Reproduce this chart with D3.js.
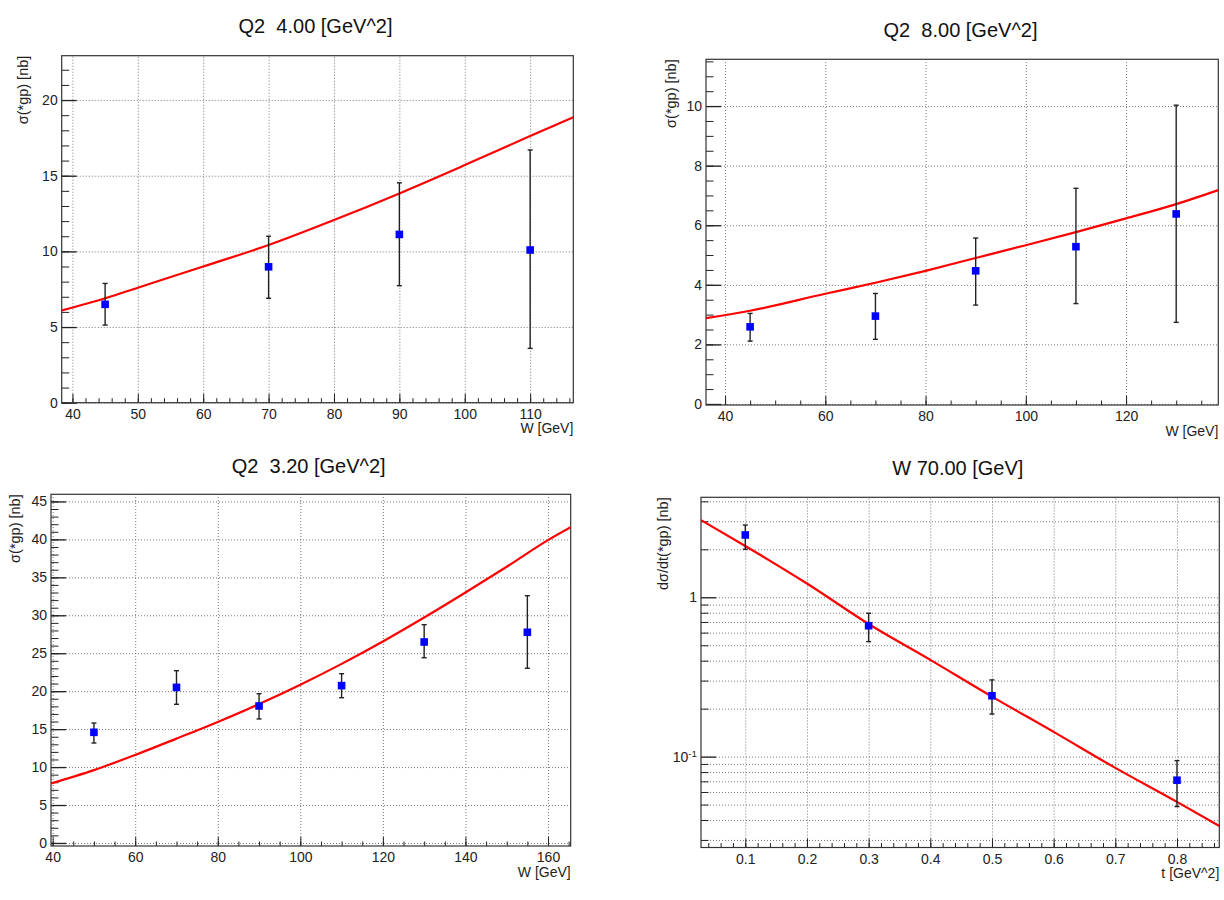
<!DOCTYPE html>
<html>
<head>
<meta charset="utf-8">
<script src="https://cdn.jsdelivr.net/npm/d3@7"></script>
<style>
body { margin: 0; background: #fff; }
text { font-family: "Liberation Sans", Arial, Helvetica, sans-serif; }
</style>
</head>
<body>
<div id="canvasplot"></div>
<script>
// Q2 = 4.00 GeV^2
var q4W      = [45, 70, 90, 110],
    q4Sig    = [6.5, 8.98, 11.12, 10.09],
    q4Lo     = [5.13, 6.9, 7.73, 3.59],
    q4Hi     = [7.88, 11.0, 14.53, 16.7],
    q4FitW   = [38.4, 45, 50, 60, 70, 80, 90, 100, 110, 116.6],
    q4Fit    = [6.1, 6.9, 7.6, 9.0, 10.42, 12.07, 13.83, 15.7, 17.62, 18.86],
    q4XTicks = [40, 50, 60, 70, 80, 90, 100, 110],
    q4YTicks = [0, 5, 10, 15, 20];

// Q2 = 8.00 GeV^2
var q8W      = [45, 70, 90, 110, 130],
    q8Sig    = [2.59, 2.95, 4.47, 5.28, 6.38],
    q8Lo     = [2.11, 2.17, 3.32, 3.37, 2.74],
    q8Hi     = [3.04, 3.71, 5.57, 7.24, 10.03],
    q8FitW   = [36.2, 45, 60, 70, 80, 90, 100, 110, 120, 130, 138.4],
    q8Fit    = [2.88, 3.13, 3.7, 4.07, 4.47, 4.9, 5.33, 5.77, 6.23, 6.71, 7.18],
    q8XTicks = [40, 60, 80, 100, 120],
    q8YTicks = [0, 2, 4, 6, 8, 10];

// Q2 = 3.20 GeV^2
var q3W      = [50, 70, 90, 110, 130, 155],
    q3Sig    = [14.58, 20.5, 18.05, 20.73, 26.48, 27.76],
    q3Lo     = [13.17, 18.27, 16.34, 19.14, 24.41, 23.02],
    q3Hi     = [15.8, 22.7, 19.67, 22.3, 28.76, 32.58],
    q3FitW   = [39.6, 50, 60, 70, 80, 90, 100, 110, 120, 130, 140, 150, 160, 165.5],
    q3Fit    = [7.85, 9.6, 11.6, 13.75, 15.95, 18.3, 20.85, 23.6, 26.55, 29.7, 33.0, 36.4, 39.9, 41.6],
    q3XTicks = [40, 60, 80, 100, 120, 140, 160],
    q3YTicks = [0, 5, 10, 15, 20, 25, 30, 35, 40, 45];

// W = 70.00 GeV, dsigma/dt vs t
var w70T      = [0.1, 0.3, 0.5, 0.8],
    w70Sig    = [2.46, 0.663, 0.241, 0.0711],
    w70Lo     = [2.0, 0.527, 0.185, 0.0486],
    w70Hi     = [2.84, 0.794, 0.303, 0.0944],
    w70FitT   = [0.0282, 0.1, 0.2, 0.3, 0.4, 0.5, 0.6, 0.7, 0.8, 0.8686],
    w70Fit    = [3.05, 2.1, 1.22, 0.68, 0.405, 0.238, 0.143, 0.085, 0.052, 0.0367],
    w70XTicks = [0.1, 0.2, 0.3, 0.4, 0.5, 0.6, 0.7, 0.8],
    w70YTicks = [0.1, 1],
    w70YMinor = [0.03, 0.04, 0.05, 0.06, 0.07, 0.08, 0.09, 0.2, 0.3, 0.4, 0.5, 0.6, 0.7, 0.8, 0.9, 2, 3, 4];

var svg = d3.select('#canvasplot').append('svg')
    .attr('width', 1224)
    .attr('height', 900);

function zip(xs, ys) {
    return xs.map(function(v, i) { return {x: v, y: ys[i]}; });
}

function minorValues(dom, step) {
    var start = Math.ceil(dom[0] / step - 1e-9) * step;
    return d3.range(start, dom[1] + 1e-9, step).map(function(v) { return +v.toFixed(6); });
}

function drawPanel(p) {
    var box = p.box,
        w = box.r - box.l,
        h = box.b - box.t;
    var g = svg.append('g');

    var x = d3.scaleLinear().domain(p.xdom).range([box.l, box.r]);
    var y = (p.log ? d3.scaleLog() : d3.scaleLinear()).domain(p.ydom).range([box.b, box.t]);

    var clipId = 'clip' + p.id;
    g.append('clipPath').attr('id', clipId)
      .append('rect').attr('x', box.l).attr('y', box.t).attr('width', w).attr('height', h);

    // grid
    var gridY = p.yGrid || p.yTicks;
    g.append('g')
        .attr('transform', 'translate(0,' + box.b + ')')
        .call(d3.axisBottom(x).tickValues(p.xTicks).tickSize(-h).tickFormat(''))
        .call(function(s) { s.select('.domain').remove(); })
        .selectAll('line')
        .attr('stroke', '#777').attr('stroke-dasharray', '1,2');
    g.append('g')
        .attr('transform', 'translate(' + box.l + ',0)')
        .call(d3.axisLeft(y).tickValues(gridY).tickSize(-w).tickFormat(''))
        .call(function(s) { s.select('.domain').remove(); })
        .selectAll('line')
        .attr('stroke', '#777').attr('stroke-dasharray', '1,2');

    // minor ticks
    g.append('g')
        .attr('transform', 'translate(0,' + box.b + ')')
        .call(d3.axisBottom(x).tickValues(minorValues(p.xdom, p.xMinor)).tickSize(-4.5).tickFormat(''))
        .call(function(s) { s.select('.domain').remove(); })
        .selectAll('line').attr('stroke', '#222');
    var yMinor = p.log ? p.yMinor : minorValues(p.ydom, p.yMinorStep);
    g.append('g')
        .attr('transform', 'translate(' + box.l + ',0)')
        .call(d3.axisLeft(y).tickValues(yMinor).tickSize(-7.5).tickFormat(''))
        .call(function(s) { s.select('.domain').remove(); })
        .selectAll('line').attr('stroke', '#222');

    // major ticks + labels
    var ax = g.append('g')
        .attr('transform', 'translate(0,' + box.b + ')')
        .call(d3.axisBottom(x).tickValues(p.xTicks).tickSize(-9).tickPadding(6.4)
              .tickFormat(p.xFormat || d3.format('d')))
        .call(function(s) { s.select('.domain').remove(); });
    ax.selectAll('line').attr('stroke', '#222');
    ax.selectAll('text').attr('font-size', 14).attr('fill', '#222')
        .attr('font-family', '"Liberation Sans", Arial, sans-serif');

    var ay = g.append('g')
        .attr('transform', 'translate(' + box.l + ',0)')
        .call(d3.axisLeft(y).tickValues(p.yTicks).tickSize(-15).tickPadding(4)
              .tickFormat(p.yFormat || d3.format('d')))
        .call(function(s) { s.select('.domain').remove(); });
    ay.selectAll('line').attr('stroke', '#222').attr('stroke-width', 1.3);
    ay.selectAll('text').attr('font-size', 14).attr('fill', '#222')
        .attr('font-family', '"Liberation Sans", Arial, sans-serif');
    if (p.log) {
        ay.selectAll('.tick text').each(function(d) {
            if (d === 0.1) {
                var t = d3.select(this);
                t.text('10');
                t.append('tspan').attr('dy', '-0.45em').attr('font-size', '0.7em').text('-1');
            }
        });
    }

    // frame
    g.append('rect')
        .attr('x', box.l).attr('y', box.t)
        .attr('width', w).attr('height', h)
        .attr('fill', 'none')
        .attr('stroke', '#333')
        .attr('stroke-width', 1.2);

    // fit curve
    var fitLine = d3.line()
        .x(function(d) { return x(d.x); })
        .y(function(d) { return y(d.y); })
        .curve(d3.curveMonotoneX);
    g.append('path')
        .datum(zip(p.fitX, p.fitY))
        .attr('clip-path', 'url(#' + clipId + ')')
        .attr('d', fitLine)
        .attr('fill', 'none')
        .attr('stroke', '#ff0000')
        .attr('stroke-width', 2.2);

    // error bars
    var pts = p.px.map(function(v, i) { return {x: v, y: p.py[i], lo: p.lo[i], hi: p.hi[i]}; });
    var eb = g.append('g').selectAll('g').data(pts).enter().append('g')
        .attr('stroke', '#222').attr('stroke-width', 1.4);
    eb.append('line')
        .attr('x1', function(d) { return x(d.x); }).attr('x2', function(d) { return x(d.x); })
        .attr('y1', function(d) { return y(d.lo); }).attr('y2', function(d) { return y(d.hi); });
    eb.append('line')
        .attr('x1', function(d) { return x(d.x) - 2.5; }).attr('x2', function(d) { return x(d.x) + 2.5; })
        .attr('y1', function(d) { return y(d.lo); }).attr('y2', function(d) { return y(d.lo); });
    eb.append('line')
        .attr('x1', function(d) { return x(d.x) - 2.5; }).attr('x2', function(d) { return x(d.x) + 2.5; })
        .attr('y1', function(d) { return y(d.hi); }).attr('y2', function(d) { return y(d.hi); });

    // markers
    g.append('g').selectAll('rect').data(pts).enter().append('rect')
        .attr('x', function(d) { return x(d.x) - 3.8; })
        .attr('y', function(d) { return y(d.y) - 3.8; })
        .attr('width', 7.6).attr('height', 7.6)
        .attr('fill', '#0000ff');

    // titles
    g.append('text')
        .attr('x', p.titleX).attr('y', p.titleY)
        .attr('text-anchor', 'middle')
        .attr('font-size', 20)
        .attr('fill', '#111')
        .style('white-space', 'pre')
        .text(p.title);

    g.append('text')
        .attr('x', box.r).attr('y', box.b + 30.5)
        .attr('text-anchor', 'end')
        .attr('font-size', 14)
        .attr('fill', '#222')
        .text(p.xLabel);

    g.append('text')
        .attr('transform', 'translate(' + p.yLabelX + ',' + box.t + ') rotate(-90)')
        .attr('text-anchor', 'end')
        .attr('font-size', 14.5)
        .attr('fill', '#222')
        .text(p.yLabel);
}

drawPanel({
    id: 1, box: {l: 61.7, r: 573.3, t: 55.7, b: 402.7},
    xdom: [38.36, 116.6], ydom: [0, 22.93],
    xTicks: q4XTicks, yTicks: q4YTicks, xMinor: 2, yMinorStep: 1,
    px: q4W, py: q4Sig, lo: q4Lo, hi: q4Hi, fitX: q4FitW, fitY: q4Fit,
    title: 'Q2\u00a0\u00a04.00 [GeV^2]', titleX: 315.5, titleY: 33.3,
    xLabel: 'W [GeV]', yLabel: 'σ(*gp) [nb]', yLabelX: 27.5
});

drawPanel({
    id: 2, box: {l: 706, r: 1218.3, t: 59.3, b: 405},
    xdom: [36.2, 138.4], ydom: [-0.034, 11.57],
    xTicks: q8XTicks, yTicks: q8YTicks, xMinor: 5, yMinorStep: 0.5,
    px: q8W, py: q8Sig, lo: q8Lo, hi: q8Hi, fitX: q8FitW, fitY: q8Fit,
    title: 'Q2\u00a0\u00a08.00 [GeV^2]', titleX: 960.5, titleY: 37,
    xLabel: 'W [GeV]', yLabel: 'σ(*gp) [nb]', yLabelX: 675.5
});

drawPanel({
    id: 3, box: {l: 51, r: 570.7, t: 494.3, b: 846},
    xdom: [39.6, 165.5], ydom: [-0.4, 45.94],
    xTicks: q3XTicks, yTicks: q3YTicks, xMinor: 5, yMinorStep: 1,
    px: q3W, py: q3Sig, lo: q3Lo, hi: q3Hi, fitX: q3FitW, fitY: q3Fit,
    title: 'Q2\u00a0\u00a03.20 [GeV^2]', titleX: 308.7, titleY: 472.5,
    xLabel: 'W [GeV]', yLabel: 'σ(*gp) [nb]', yLabelX: 19.5
});

drawPanel({
    id: 4, box: {l: 701, r: 1219.3, t: 497.3, b: 847.5}, log: true,
    xdom: [0.0282, 0.8686], ydom: [0.0269, 4.24],
    xTicks: w70XTicks, yTicks: w70YTicks, yMinor: w70YMinor,
    yGrid: w70YTicks.concat(w70YMinor), xMinor: 0.02,
    xFormat: d3.format('.1f'), yFormat: function(d) { return d === 1 ? '1' : String(d); },
    px: w70T, py: w70Sig, lo: w70Lo, hi: w70Hi, fitX: w70FitT, fitY: w70Fit,
    title: 'W 70.00 [GeV]', titleX: 957.8, titleY: 475,
    xLabel: 't [GeV^2]', yLabel: 'dσ/dt(*gp) [nb]', yLabelX: 668
});
</script>
</body>
</html>
